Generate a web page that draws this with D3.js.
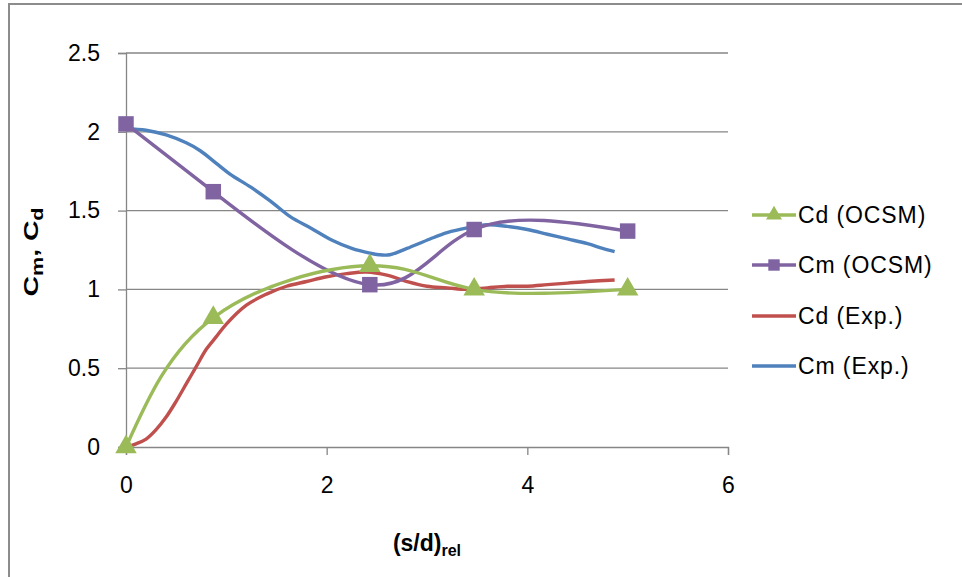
<!DOCTYPE html>
<html>
<head>
<meta charset="utf-8">
<script src="https://cdn.jsdelivr.net/npm/d3@7"></script>
<style>
  body { margin: 0; background: #fff; }
  text { font-family: "Liberation Sans", Arial, sans-serif; fill: #000; }
</style>
</head>
<body>
<script>
// chart values
var ocsmX   = [0, 0.87, 2.43, 3.47, 5];
var cdOcsm  = [0, 0.82, 1.15, 1.0, 1.0];
var cmOcsm  = [2.05, 1.62, 1.03, 1.38, 1.37];

var cdExpX  = [0, 0.1, 0.2, 0.3, 0.4, 0.5, 0.6, 0.7, 0.8, 0.9, 1.0, 1.2, 1.4, 1.6, 1.8, 2.0,
               2.2, 2.4, 2.6, 2.8, 3.0, 3.2, 3.4, 3.6, 3.8, 4.0, 4.2, 4.4, 4.6, 4.87];
var cdExp   = [0, 0.02, 0.05, 0.11, 0.19, 0.29, 0.40, 0.51, 0.62, 0.70, 0.78, 0.90, 0.97, 1.02, 1.05, 1.08,
               1.10, 1.11, 1.09, 1.05, 1.02, 1.01, 1.00, 1.01, 1.02, 1.02, 1.03, 1.04, 1.05, 1.06];

var cmExpX  = [0, 0.2, 0.4, 0.6, 0.74, 0.9, 1.04, 1.24, 1.44, 1.64, 1.84, 2.06, 2.25, 2.43, 2.52,
               2.63, 2.8, 3.03, 3.2, 3.4, 3.6, 3.8, 4.0, 4.2, 4.4, 4.6, 4.75, 4.87];
var cmExp   = [2.02, 2.01, 1.98, 1.93, 1.88, 1.80, 1.73, 1.65, 1.56, 1.46, 1.39, 1.31, 1.26, 1.23, 1.22,
               1.22, 1.26, 1.32, 1.36, 1.39, 1.41, 1.40, 1.38, 1.35, 1.32, 1.29, 1.26, 1.24];

var xTicks  = [0, 2, 4, 6];
var yTicks  = [0, 0.5, 1, 1.5, 2, 2.5];
var seriesNames = ["Cd (OCSM)", "Cm (OCSM)", "Cd (Exp.)", "Cm (Exp.)"];

window.onload = function(){

  var w = 962, h = 577;
  var left = 126, right = 728, top = 53, bottom = 447;

  var svg = d3.select("body").append("svg")
      .attr("width", w)
      .attr("height", h)
      .attr("class", "container");

  svg.append("rect")
      .attr("width", w).attr("height", h)
      .style("fill", "#fff");

  // outer chart border (runs off the right / bottom edge)
  svg.append("rect")
      .attr("class", "frame")
      .attr("x", 9).attr("y", 4)
      .attr("width", 1000).attr("height", 600)
      .style("fill", "none")
      .style("stroke", "#8c8c8c")
      .style("stroke-width", 2);

  var x = d3.scaleLinear().domain([0, 6]).range([left, right]);
  var y = d3.scaleLinear().domain([0, 2.5]).range([bottom, top]);

  // gridlines
  svg.append("g").attr("class", "grid")
    .selectAll("line").data(yTicks.slice(1)).enter().append("line")
      .attr("x1", left).attr("x2", right)
      .attr("y1", function(d){ return y(d); })
      .attr("y2", function(d){ return y(d); })
      .style("stroke", "#868686")
      .style("stroke-width", 1.3);

  // axes
  var yAxis = d3.axisLeft(y).tickValues(yTicks).tickSize(8).tickPadding(18)
      .tickFormat(function(d){ return String(d); });
  var gy = svg.append("g").attr("class", "y-axis")
      .attr("transform", "translate(" + left + ",0)")
      .call(yAxis);

  var xAxis = d3.axisBottom(x).tickValues(xTicks).tickSize(8).tickPadding(22)
      .tickFormat(function(d){ return String(d); });
  var gx = svg.append("g").attr("class", "x-axis")
      .attr("transform", "translate(0," + bottom + ")")
      .call(xAxis);

  [gx, gy].forEach(function(g){
    g.select(".domain").style("stroke", "#868686").style("stroke-width", 1.3);
    g.selectAll(".tick line").style("stroke", "#868686").style("stroke-width", 1.3);
    g.selectAll(".tick text")
      .style("font-family", "'Liberation Sans', Arial, sans-serif")
      .style("font-size", "23px")
      .style("fill", "#000");
  });

  // axis titles
  var yt = svg.append("text")
      .attr("class", "y-title")
      .attr("transform", "translate(38," + 252 + ") rotate(-90) scale(1.35,1)")
      .attr("text-anchor", "middle")
      .style("font-size", "21px")
      .style("font-weight", "bold");
  yt.append("tspan").text("C");
  yt.append("tspan").attr("dy", 5).style("font-size", "16px").text("m");
  yt.append("tspan").attr("dy", -5).text(", C");
  yt.append("tspan").attr("dy", 5).style("font-size", "16px").text("d");

  var xt = svg.append("text")
      .attr("class", "x-title")
      .attr("x", (left + right) / 2).attr("y", 551)
      .attr("text-anchor", "middle")
      .style("font-size", "23px")
      .style("font-weight", "bold");
  xt.append("tspan").text("(s/d)");
  xt.append("tspan").attr("dy", 5).style("font-size", "16px").text("rel");

  // series
  var colors = ["#9BBB59", "#8064A2", "#C0504D", "#4F81BD"];

  function pts(xs, ys){ return xs.map(function(d, i){ return [d, ys[i]]; }); }

  var smooth = d3.line()
      .x(function(d){ return x(d[0]); })
      .y(function(d){ return y(d[1]); })
      .curve(d3.curveNatural);
  var exp = d3.line()
      .x(function(d){ return x(d[0]); })
      .y(function(d){ return y(d[1]); })
      .curve(d3.curveCatmullRom);

  var series = [
    { data: pts(ocsmX, cdOcsm), line: smooth, marker: "triangle" },
    { data: pts(ocsmX, cmOcsm), line: smooth, marker: "square" },
    { data: pts(cdExpX, cdExp), line: exp, marker: null },
    { data: pts(cmExpX, cmExp), line: exp, marker: null }
  ];

  // draw order: Cd Exp, Cm Exp, then OCSM on top
  [2, 3, 1, 0].forEach(function(i){
    var s = series[i];
    svg.append("path")
        .datum(s.data)
        .attr("class", "series s" + i)
        .attr("d", s.line)
        .style("fill", "none")
        .style("stroke", colors[i])
        .style("stroke-width", 3.4)
        .style("stroke-linejoin", "round");
  });

  var tri = d3.symbol().type(d3.symbolTriangle).size(200);
  var sq  = d3.symbol().type(d3.symbolSquare).size(240);

  [1, 0].forEach(function(i){
    var s = series[i];
    svg.append("g").attr("class", "markers m" + i)
      .selectAll("path").data(s.data).enter().append("path")
        .attr("transform", function(d){ return "translate(" + x(d[0]) + "," + y(d[1]) + ")"; })
        .attr("d", s.marker === "triangle" ? tri : sq)
        .style("fill", colors[i]);
  });

  // legend
  var legY = [215, 265, 316, 366];
  var leg = svg.append("g").attr("class", "legend");
  seriesNames.forEach(function(name, i){
    var g = leg.append("g").attr("transform", "translate(752," + legY[i] + ")");
    g.append("line")
        .attr("x1", 0).attr("x2", 44)
        .style("stroke", colors[i]).style("stroke-width", 3.4);
    if (series[i].marker) {
      g.append("path")
          .attr("transform", "translate(22,0)")
          .attr("d", d3.symbol().type(series[i].marker === "triangle" ? d3.symbolTriangle : d3.symbolSquare)
                       .size(series[i].marker === "triangle" ? 110 : 130))
          .style("fill", colors[i]);
    }
    g.append("text")
        .attr("x", 46).attr("y", 8)
        .style("font-size", "23px")
        .style("letter-spacing", "0.9px")
        .text(name);
  });
};
</script>
</body>
</html>
